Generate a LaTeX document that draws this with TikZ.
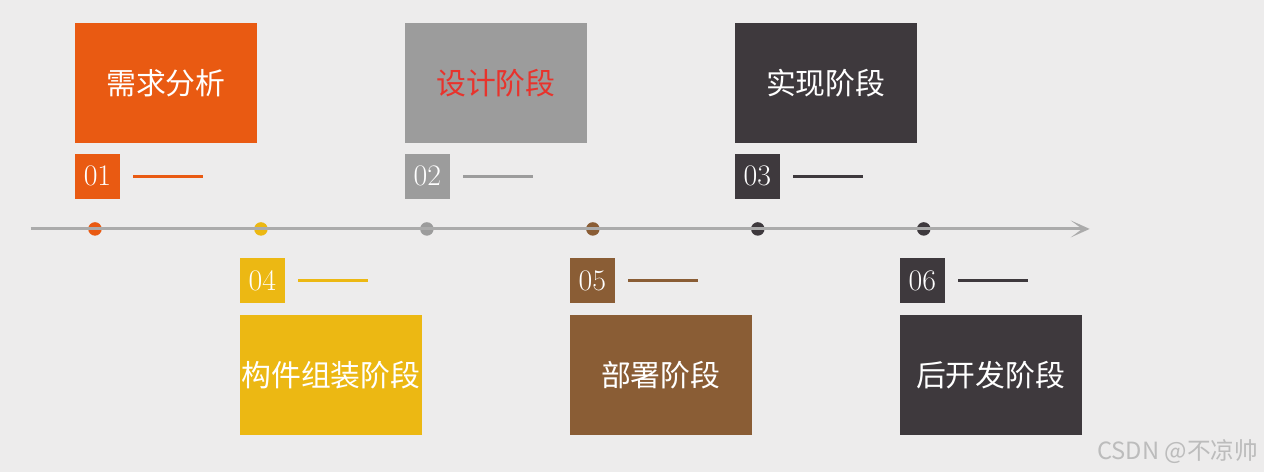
\documentclass[tikz,border=0pt]{standalone}
\usepackage{fontspec}
\newfontfamily\cjk{Noto Sans CJK SC}
\usetikzlibrary{arrows.meta,positioning}
\definecolor{PhBack}{HTML}{EDECEC}
\definecolor{PhOrange}{HTML}{E95A12}
\definecolor{PhGray}{HTML}{9C9C9C}
\definecolor{PhDark}{HTML}{3E393D}
\definecolor{PhYellow}{HTML}{ECB813}
\definecolor{PhBrown}{HTML}{8A5D35}
\definecolor{PhRed}{HTML}{E8332C}
\definecolor{PhAxis}{HTML}{ABABAB}

\begin{document}
\begin{tikzpicture}[x=0.02cm,y=-0.02cm,
    phase/.style={fill=#1,minimum width=3.64cm,minimum height=2.4cm,inner sep=0pt,
      font=\cjk\fontsize{17}{19}\selectfont,text=white},
    num/.style={fill=#1,minimum size=0.9cm,inner sep=0pt,
      font=\fontsize{17}{18}\selectfont,text=white},
    tick/.style={line width=1.6pt,color=#1},
    dot/.style={circle,fill=#1,minimum size=0.27cm,inner sep=0pt},
    axis/.style={line width=1.7pt,color=PhAxis,
      -{Stealth[length=3.8mm,width=3.4mm,inset=2.3mm]}}
  ]
    \fill[PhBack] (0,0) rectangle (1264,472);
    % timeline
    \foreach \x/\c/\i in {95/PhOrange/1,261/PhYellow/4,427/PhGray/2,593/PhBrown/5,758/PhDark/3,924/PhDark/6}
      \node[dot=\c] (d\i) at (\x,229) {};
    \coordinate (tl-start) at (31,229);
    \coordinate (tl-end) at (1090,229);
    \draw[axis] (tl-start) -- (tl-end);
    % upper phases
    \node[phase=PhOrange] (p1) at (166,83) {需求分析};
    \node[phase=PhGray,text=PhRed] (p2) at (496,83) {设计阶段};
    \node[phase=PhDark] (p3) at (826,83) {实现阶段};
    \foreach \i/\c in {1/PhOrange,2/PhGray,3/PhDark} {
      \node[num=\c,anchor=north west] (n\i) at ([yshift=-0.2cm]p\i.south west) {0\i};
      \draw[tick=\c] ([xshift=0.26cm]n\i.east) -- ++(70,0);
    }
    % lower phases
    \node[phase=PhYellow] (p4) at (331,375) {构件组装阶段};
    \node[phase=PhBrown] (p5) at (661,375) {部署阶段};
    \node[phase=PhDark] (p6) at (991,375) {后开发阶段};
    \foreach \i/\c in {4/PhYellow,5/PhBrown,6/PhDark} {
      \node[num=\c,anchor=south west] (n\i) at ([yshift=0.22cm]p\i.north west) {0\i};
      \draw[tick=\c] ([xshift=0.26cm]n\i.east) -- ++(70,0);
    }
    \node[font=\cjk\fontsize{13.5}{15}\selectfont,text=PhAxis!80!white] (mark) at (1178,452) {CSDN @不凉帅};
  \end{tikzpicture}
\end{document}
